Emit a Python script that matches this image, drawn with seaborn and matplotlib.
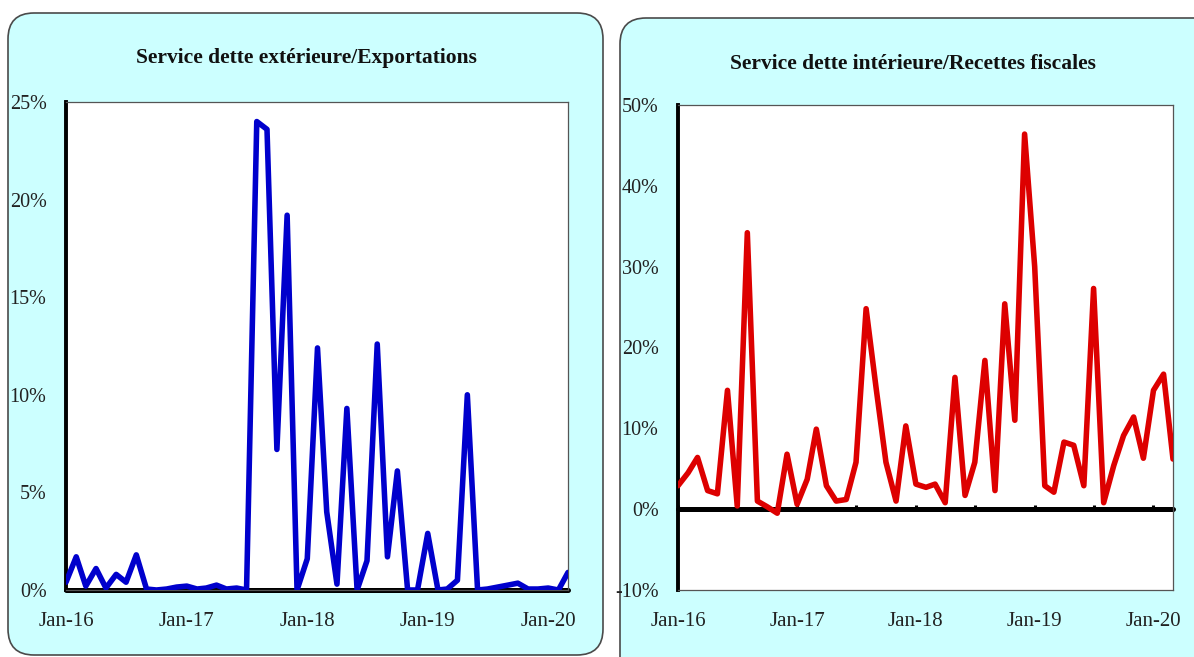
import matplotlib
matplotlib.use("Agg")
import matplotlib.pyplot as plt
import matplotlib.dates as mdates
import matplotlib.ticker as ticker
from matplotlib.patches import FancyBboxPatch
import seaborn as sns
import pandas as pd

# monthly observations, Jan-16 .. Mar-20 (values in %)
months = pd.date_range("2016-01-01", periods=51, freq="MS")

ext_service_exports = [0.4, 1.7, 0.2, 1.1, 0.1, 0.8, 0.4, 1.8, 0.05, 0.0,
                       0.05, 0.15, 0.2, 0.05, 0.1, 0.25, 0.05, 0.1, 0.0, 24.0,
                       23.6, 7.2, 19.2, 0.0, 1.6, 12.4, 4.0, 0.3, 9.3, 0.0,
                       1.5, 12.6, 1.7, 6.1, 0.0, 0.0, 2.9, 0.0, 0.05, 0.5,
                       10.0, 0.0, 0.05, 0.15, 0.25, 0.35, 0.05, 0.05, 0.1, 0.0,
                       0.9]

dom_service_tax = [2.9, 4.5, 6.4, 2.3, 1.9, 14.7, 0.4, 34.2, 1.0, 0.3,
                   -0.5, 6.8, 0.6, 3.7, 9.9, 2.9, 1.0, 1.2, 5.8, 24.8,
                   14.9, 5.8, 1.0, 10.3, 3.1, 2.7, 3.1, 0.8, 16.3, 1.7,
                   5.8, 18.4, 2.3, 25.4, 11.0, 46.4, 30.0, 2.9, 2.1, 8.3,
                   7.9, 2.9, 27.3, 0.8, 5.4, 9.1, 11.4, 6.3, 14.7, 16.7,
                   6.2]

titles = ["Service dette extérieure/Exportations",
          "Service dette intérieure/Recettes fiscales"]

sns.set_style("white")
plt.rcParams['font.family'] = ['Liberation Serif', 'DejaVu Serif']
plt.rcParams['axes.unicode_minus'] = False

W, H = 1194, 657
fig = plt.figure(figsize=(W / 100, H / 100), dpi=100)
fig.patch.set_facecolor("white")


def rect_px(x0, y0, x1, y1):
    # pixel box (origin top-left) -> figure fraction
    return [x0 / W, 1 - y1 / H, (x1 - x0) / W, (y1 - y0) / H]


# rounded cyan panels
for x0, y0, x1, y1 in [(8, 13, 603, 655), (620, 18, 1225, 690)]:
    box = FancyBboxPatch((x0 / 100, (H - y1) / 100), (x1 - x0) / 100, (y1 - y0) / 100,
                         boxstyle="round,pad=0,rounding_size=0.26",
                         transform=fig.dpi_scale_trans,
                         facecolor="#CCFFFF", edgecolor="#4a4a4a", lw=1.2, zorder=0)
    fig.add_artist(box)


def draw_panel(rect, values, color, ylo, yhi, step):
    ax = fig.add_axes(rect)
    ax.set_facecolor("white")
    df = pd.DataFrame({"month": months, "value": values})
    sns.lineplot(data=df, x="month", y="value", ax=ax, color=color, lw=4.0,
                 solid_joinstyle="round", solid_capstyle="round", zorder=3)
    ax.axhline(0, color="black", lw=3.6, zorder=2, clip_on=False)

    ax.set_xlim(months[0], months[-1])
    ax.set_ylim(ylo, yhi)
    ax.set_xlabel("")
    ax.set_ylabel("")

    for side in ["top", "right", "bottom"]:
        ax.spines[side].set_color("#555555")
        ax.spines[side].set_linewidth(0.9)
    ax.spines["left"].set_color("black")
    ax.spines["left"].set_linewidth(2.8)

    ax.yaxis.set_major_locator(ticker.MultipleLocator(step))
    ax.yaxis.set_major_formatter(ticker.PercentFormatter(decimals=0))
    ax.xaxis.set_major_locator(mdates.YearLocator())
    ax.xaxis.set_major_formatter(mdates.DateFormatter("%b-%y"))
    ax.xaxis.set_minor_locator(mdates.MonthLocator(bymonth=7))

    ax.tick_params(axis="y", direction="in", length=4, width=2.6, color="black",
                   labelsize=14.5, labelcolor="#222222", pad=14)
    ax.tick_params(axis="x", which="both", direction="in", length=3, width=2.2,
                   color="black", labelsize=15, labelcolor="#222222", pad=16)
    return ax


ax1 = draw_panel(rect_px(66, 102, 568, 590), ext_service_exports, "#0000CC", 0, 25, 5)
ax2 = draw_panel(rect_px(678, 105, 1173, 590), dom_service_tax, "#DD0000", -10, 50, 10)

# right chart: tick marks sit on the zero line, labels stay at the bottom
ax2.tick_params(axis="x", which="both", length=0)
sec = ax2.secondary_xaxis(10 / 60)
sec.spines["bottom"].set_visible(False)
sec.xaxis.set_major_locator(mdates.MonthLocator(bymonth=(1, 7)))
sec.tick_params(axis="x", direction="in", length=3, width=2.2, color="black",
                labelbottom=False)

fig.text(306 / W, 1 - 58 / H, titles[0], ha="center", va="center",
         fontsize=15.5, fontweight="bold", color="#111111")
fig.text(913 / W, 1 - 64 / H, titles[1], ha="center", va="center",
         fontsize=15.5, fontweight="bold", color="#111111")

fig.savefig("out.png", dpi=100, facecolor="white")
